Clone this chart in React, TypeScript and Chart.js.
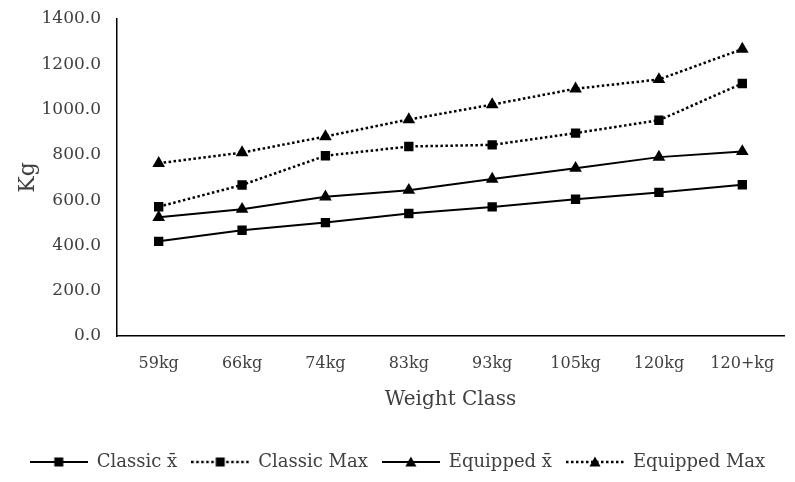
import React, { useEffect, useRef } from "react";
import { Chart, registerables } from "chart.js";

Chart.register(...registerables);

const categories = ["59kg", "66kg", "74kg", "83kg", "93kg", "105kg", "120kg", "120+kg"];
const classicMean = [418, 467, 501, 541, 570, 604, 634, 668];
const classicMax = [571, 667, 796, 837, 844, 896, 953, 1115];
const equippedMean = [524, 560, 615, 644, 693, 741, 790, 815];
const equippedMax = [763, 810, 881, 956, 1022, 1092, 1133, 1267];
const seriesNames = ["Classic x\u0304", "Classic Max", "Equipped x\u0304", "Equipped Max"];
const yMin = 0;
const yMax = 1400;
const yStep = 200;
const xTitle = "Weight Class";
const yTitle = "Kg";

const FONT = "'DejaVu Serif', serif";
const TEXT = "#404040";

function legendGlyph(dotted: boolean, shape: "rect" | "triangle"): HTMLCanvasElement {
  const c = document.createElement("canvas");
  c.width = 58;
  c.height = 14;
  const ctx = c.getContext("2d")!;
  ctx.strokeStyle = "#000";
  ctx.lineWidth = dotted ? 2.5 : 2;
  if (dotted) ctx.setLineDash([2.5, 2.5]);
  ctx.beginPath();
  ctx.moveTo(0, 7);
  ctx.lineTo(58, 7);
  ctx.stroke();
  ctx.setLineDash([]);
  ctx.fillStyle = "#000";
  if (shape === "rect") {
    ctx.fillRect(24.5, 2.5, 9, 9);
  } else {
    ctx.beginPath();
    ctx.moveTo(29, 1.5);
    ctx.lineTo(34.5, 11.5);
    ctx.lineTo(23.5, 11.5);
    ctx.closePath();
    ctx.fill();
  }
  return c;
}

export default function App() {
  const ref = useRef<HTMLCanvasElement | null>(null);

  useEffect(() => {
    document.body.style.margin = "0";
    const canvas = ref.current!;
    const specs = [
      { data: classicMean, dotted: false, shape: "rect" as const },
      { data: classicMax, dotted: true, shape: "rect" as const },
      { data: equippedMean, dotted: false, shape: "triangle" as const },
      { data: equippedMax, dotted: true, shape: "triangle" as const },
    ];
    const glyphs = specs.map((s) => legendGlyph(s.dotted, s.shape));

    const chart = new Chart(canvas, {
      type: "line",
      data: {
        labels: categories,
        datasets: specs.map((s, i) => ({
          label: seriesNames[i],
          data: s.data,
          borderColor: "#000",
          backgroundColor: "#000",
          borderWidth: s.dotted ? 2.5 : 2,
          borderDash: s.dotted ? [2.5, 2.5] : [],
          pointStyle: s.shape,
          pointRadius: s.shape === "rect" ? 6.6 : 7.3,
          pointBackgroundColor: "#000",
          pointBorderColor: "#000",
          pointBorderWidth: 0,
          fill: false,
          tension: 0,
        })),
      },
      options: {
        responsive: false,
        animation: false,
        layout: { padding: { top: 19, right: 0, left: 0, bottom: 1 } },
        plugins: {
          tooltip: { enabled: false },
          legend: {
            position: "bottom",
            labels: {
              usePointStyle: true,
              pointStyleWidth: 58,
              boxHeight: 14,
              padding: 14,
              color: TEXT,
              font: { family: FONT, size: 18 },
              generateLabels: (ch: any) =>
                ch.data.datasets.map((ds: any, i: number) => ({
                  text: ds.label,
                  pointStyle: glyphs[i],
                  fillStyle: "#000",
                  strokeStyle: "#000",
                  lineWidth: 0,
                  hidden: false,
                  datasetIndex: i,
                  fontColor: TEXT,
                })),
            },
          },
        },
        scales: {
          x: {
            offset: true,
            grid: { display: false, drawTicks: false },
            border: { display: true, color: "#000", width: 1.5 },
            ticks: { color: TEXT, font: { family: FONT, size: 16 }, padding: 18, maxRotation: 0 },
            title: {
              display: true,
              text: xTitle,
              color: TEXT,
              font: { family: FONT, size: 20 },
              padding: { top: 4, bottom: 27 },
            },
            afterFit: (scale: any) => {
              scale.height = 103;
              scale.paddingRight = 11;
              scale.paddingLeft = 0;
            },
          },
          y: {
            min: yMin,
            max: yMax,
            grid: { display: false, drawTicks: false },
            border: { display: true, color: "#000", width: 1.5 },
            ticks: {
              stepSize: yStep,
              color: TEXT,
              font: { family: FONT, size: 17 },
              padding: 16,
              callback: (v: any) => Number(v).toFixed(1),
            },
            title: {
              display: true,
              text: yTitle,
              color: TEXT,
              font: { family: FONT, size: 22 },
              padding: { top: 15, bottom: 0 },
            },
            afterFit: (scale: any) => {
              scale.width = 117;
              scale.paddingTop = 0;
              scale.paddingBottom = 0;
            },
          },
        },
      },
    });
    return () => chart.destroy();
  }, []);

  return (
    <div style={{ position: "absolute", left: 0, top: 0, width: 795, height: 482 }}>
      <canvas ref={ref} width={795} height={482} />
    </div>
  );
}
